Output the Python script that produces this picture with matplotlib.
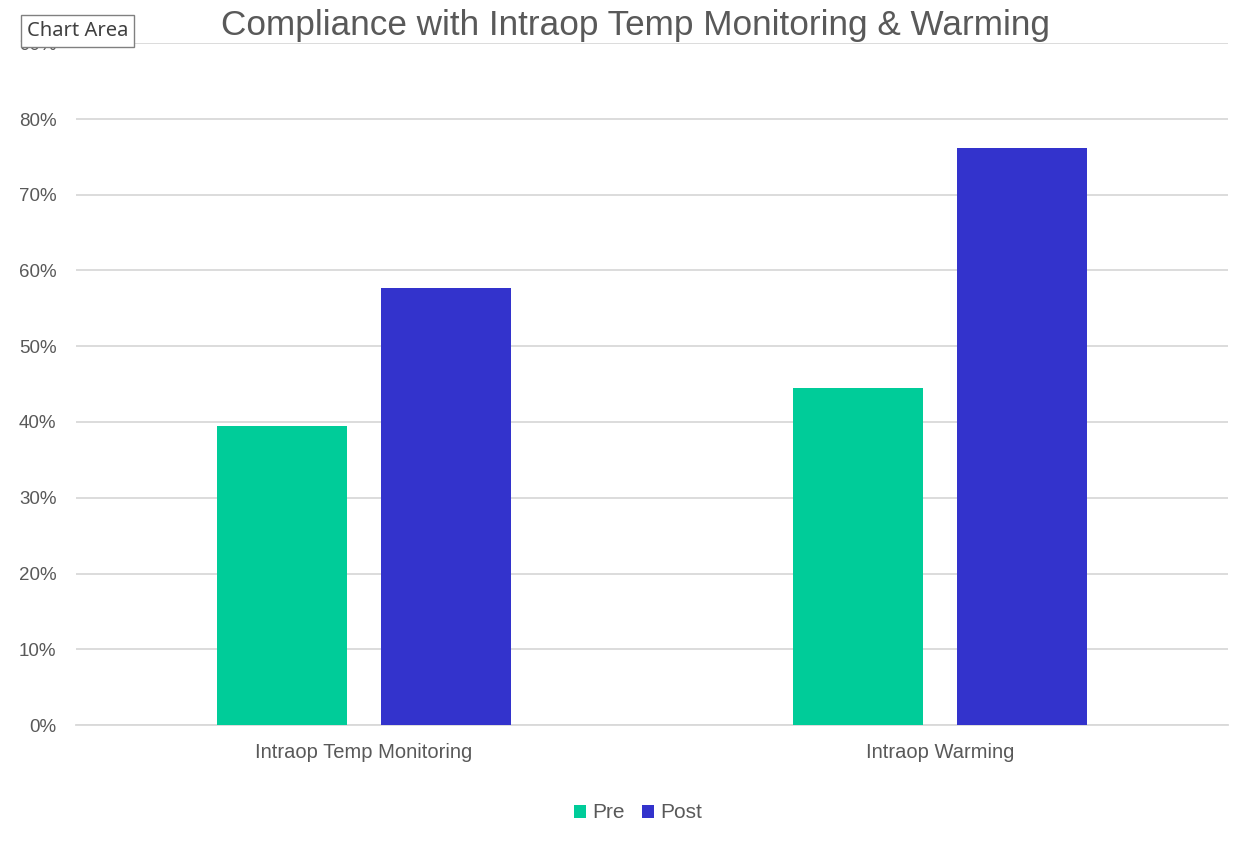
import numpy as np
import matplotlib.pyplot as plt
from matplotlib.ticker import PercentFormatter

categories = ["Intraop Temp Monitoring", "Intraop Warming"]
pre = [0.395, 0.445]
post = [0.577, 0.762]

plt.rcParams['font.family'] = ['Liberation Sans', 'DejaVu Sans']
text_color = '#595959'

fig = plt.figure(figsize=(12.56, 8.44), dpi=100)
ax = fig.add_axes([76 / 1256, 1 - 725 / 844, 1152 / 1256, (725 - 43.25) / 844])

x = np.arange(len(categories))
width = 0.2257
offset = 0.1424
ax.bar(x - offset, pre, width, color='#00CC99', label='Pre', zorder=3)
ax.bar(x + offset, post, width, color='#3333CC', label='Post', zorder=3)

ax.set_xlim(-0.5, len(categories) - 0.5)
ax.set_ylim(0, 0.9)
ax.set_yticks(np.arange(0, 0.91, 0.1))
ax.yaxis.set_major_formatter(PercentFormatter(1.0, decimals=0))
ax.set_xticks(x)
ax.set_xticklabels(categories)

ax.grid(axis='y', color='#D9D9D9', linewidth=1.3, zorder=0)
for side in ['top', 'right', 'left']:
    ax.spines[side].set_visible(False)
ax.spines['bottom'].set_color('#D9D9D9')
ax.spines['bottom'].set_linewidth(1.3)
ax.tick_params(axis='both', length=0, labelsize=13.5, colors=text_color)
ax.tick_params(axis='x', pad=13, labelsize=14.5)
ax.tick_params(axis='y', pad=14)

fig.text(0.506, 1 - 25.5 / 844, "Compliance with Intraop Temp Monitoring & Warming",
         ha='center', va='center', fontsize=25.3, color=text_color)

fig.legend(loc='center', bbox_to_anchor=(0.508, 1 - 813 / 844), ncol=2, frameon=False,
           fontsize=15, handlelength=0.6, handleheight=0.6, handletextpad=0.3,
           columnspacing=0.8, labelcolor=text_color)

# "Chart Area" tooltip from the screenshot
fig.text(27 / 1256, 1 - 31 / 844, "Chart Area", ha='left', va='center',
         fontsize=14.5, color='#404040', family=['Noto Sans', 'DejaVu Sans'],
         bbox=dict(boxstyle='square,pad=0.3', facecolor='white',
                   edgecolor='#808080', linewidth=1), zorder=10)

fig.savefig('out.png', dpi=100)
